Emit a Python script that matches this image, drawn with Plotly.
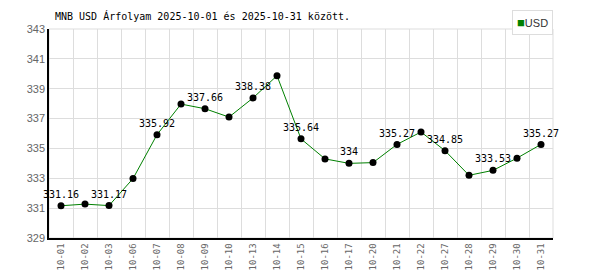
import plotly.graph_objects as go

dates = ["10-01", "10-02", "10-03", "10-06", "10-07", "10-08", "10-09", "10-10",
         "10-13", "10-14", "10-15", "10-16", "10-17", "10-20", "10-21", "10-22",
         "10-27", "10-28", "10-29", "10-30", "10-31"]
usd = [331.16, 331.27, 331.17, 332.98, 335.92, 337.97, 337.66, 337.10,
       338.38, 339.87, 335.64, 334.30, 334.00, 334.05, 335.27, 336.10,
       334.85, 333.20, 333.53, 334.35, 335.27]
labeled = [True, False, True, False, True, False, True, False,
           True, False, True, False, True, False, True, False,
           True, False, True, False, True]
y_ticks = [329, 331, 333, 335, 337, 339, 341, 343]

def fmt(v):
    s = f"{v:.2f}".rstrip("0").rstrip(".")
    return s

texts = [fmt(v) if show else "" for v, show in zip(usd, labeled)]

mono = "DejaVu Sans Mono"
fig = go.Figure()
fig.add_trace(go.Scatter(
    x=dates, y=usd, mode="lines+markers+text",
    line=dict(color="#008000", width=1),
    marker=dict(color="black", size=7),
    text=texts, textposition="top center",
    textfont=dict(family=mono, size=10, color="black"),
    showlegend=False, cliponaxis=False,
))

fig.update_layout(
    width=600, height=270,
    margin=dict(l=49, r=47, t=29, b=32),
    paper_bgcolor="white", plot_bgcolor="white",
    xaxis=dict(type="category", tickson="boundaries", showgrid=True,
               range=[-0.5, len(dates) - 0.5],
               gridcolor="#dddddd", gridwidth=1, showline=True,
               linecolor="black", linewidth=1.5, tickangle=-90, ticks="",
               tickfont=dict(family=mono, size=9, color="#666666"),
               ticklabelstandoff=0,
               zeroline=False, automargin=False),
    yaxis=dict(range=[329, 343], tickvals=y_ticks, showgrid=True,
               gridcolor="#dddddd", gridwidth=1, showline=True,
               linecolor="black", linewidth=1.5, ticks="",
               tickfont=dict(family="Liberation Sans", size=11, color="#666666"),
               zeroline=False, automargin=False),
    shapes=[dict(type="rect", xref="paper", yref="paper", x0=0, x1=1, y0=0, y1=1,
                 line=dict(color="#dddddd", width=1), layer="below")],
    annotations=[
        dict(text="MNB USD Árfolyam 2025-10-01 és 2025-10-31 között.",
             xref="paper", yref="paper", x=0, y=1, xanchor="left",
             yanchor="bottom", xshift=4, yshift=5, showarrow=False,
             font=dict(family=mono, size=10, color="black")),
        dict(text="<span style='color:#008000;font-size:13px'>■</span>USD",
             xref="paper", yref="paper", x=1, y=1, xanchor="right",
             yanchor="bottom", yshift=-6, showarrow=False,
             bordercolor="#dddddd", borderwidth=1, borderpad=4, bgcolor="white",
             font=dict(family="Liberation Sans", size=11, color="#333333")),
    ],
)

fig.write_html("out.html")
